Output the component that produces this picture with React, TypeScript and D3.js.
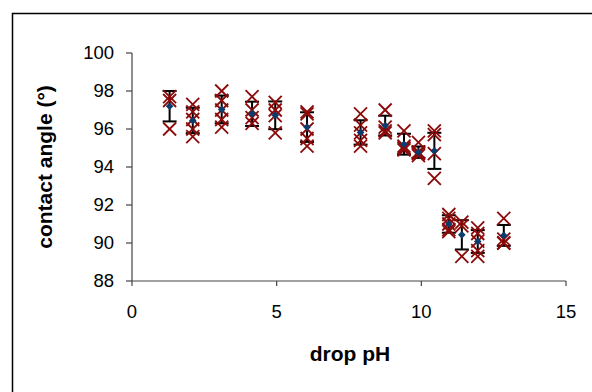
import React from "react";
import * as d3 from "d3";

const dropPH = [1.3, 2.1, 3.1, 4.15, 4.95, 6.05, 7.9, 8.75, 9.4, 9.9, 10.45, 10.95, 11.4, 11.95, 12.85];
const meanAngle = [97.2, 96.45, 97.03, 96.8, 96.72, 96.1, 95.82, 96.18, 95.2, 94.78, 94.85, 91.0, 90.43, 90.08, 90.4];
const errAngle = [0.8, 0.67, 0.73, 0.64, 0.73, 0.78, 0.64, 0.52, 0.55, 0.3, 0.95, 0.46, 0.77, 0.6, 0.55];
const readings = [
  [97.7, 97.5, 96.0],
  [97.3, 96.9, 96.5, 96.0, 95.6],
  [98.0, 97.5, 97.0, 96.5, 96.1],
  [97.7, 97.0, 96.6, 96.3],
  [97.4, 97.0, 96.7, 95.8],
  [96.9, 96.8, 96.0, 95.5, 95.1],
  [96.8, 96.2, 95.8, 95.4, 95.1],
  [97.0, 96.1, 95.9, 95.8],
  [95.9, 95.1, 95.0, 94.9],
  [95.3, 94.8, 94.7, 94.6],
  [95.9, 95.7, 94.7, 93.4],
  [91.5, 91.3, 91.0, 90.7, 90.6],
  [91.1, 90.9, 89.3],
  [90.8, 90.5, 90.1, 89.6, 89.3],
  [91.3, 90.2, 90.0, 90.0],
];
const xTicks = [0, 5, 10, 15];
const yTicks = [88, 90, 92, 94, 96, 98, 100];

export default function App() {
  const x = d3.scaleLinear().domain([0, 15]).range([132, 566]);
  const y = d3.scaleLinear().domain([88, 100]).range([281, 53]);
  const font = "'Liberation Sans', Arial, sans-serif";
  const axisColor = "#444";
  const xs = 6.5;
  const ds = 3.8;
  const cap = 7;
  return (
    <svg width={592} height={392} style={{ position: "absolute", left: 0, top: 0 }} fontFamily={font}>
      <rect x={0} y={0} width={592} height={392} fill="#fff" />
      <rect x={12.5} y={13.5} width={620} height={420} fill="none" stroke="#000" strokeWidth={1.5} />
      <line x1={x(0)} x2={x(0)} y1={y(100)} y2={y(88)} stroke={axisColor} strokeWidth={1.2} />
      <line x1={x(0)} x2={x(15)} y1={y(88)} y2={y(88)} stroke={axisColor} strokeWidth={1.2} />
      {yTicks.map((t) => (
        <g key={"y" + t}>
          <line x1={x(0) - 6} x2={x(0)} y1={y(t)} y2={y(t)} stroke={axisColor} strokeWidth={1.2} />
          <text x={x(0) - 18} y={y(t)} dy="0.35em" textAnchor="end" fontSize={18.5} fill="#000">
            {t}
          </text>
        </g>
      ))}
      {xTicks.map((t) => (
        <g key={"x" + t}>
          <line x1={x(t)} x2={x(t)} y1={y(88)} y2={y(88) + 5} stroke={axisColor} strokeWidth={1.2} />
          <text x={x(t)} y={318} textAnchor="middle" fontSize={18.5} fill="#000">
            {t}
          </text>
        </g>
      ))}
      <text x={350} y={361} textAnchor="middle" fontSize={21} fontWeight="bold" fill="#000">
        drop pH
      </text>
      <text
        transform={`translate(52,167) rotate(-90)`}
        textAnchor="middle"
        fontSize={21}
        fontWeight="bold"
        fill="#000"
      >
        contact angle (°)
      </text>
      {dropPH.map((p, i) => {
        const cx = x(p);
        const top = y(meanAngle[i] + errAngle[i]);
        const bot = y(meanAngle[i] - errAngle[i]);
        return (
          <g key={"e" + i} stroke="#000" strokeWidth={2}>
            <line x1={cx} x2={cx} y1={top} y2={bot} />
            <line x1={cx - cap} x2={cx + cap} y1={top} y2={top} />
            <line x1={cx - cap} x2={cx + cap} y1={bot} y2={bot} />
          </g>
        );
      })}
      {dropPH.map((p, i) =>
        readings[i].map((v, j) => {
          const cx = x(p);
          const cy = y(v);
          return (
            <g key={"r" + i + "-" + j} stroke="#8B0A0A" strokeWidth={1.8}>
              <line x1={cx - xs} x2={cx + xs} y1={cy - xs} y2={cy + xs} />
              <line x1={cx - xs} x2={cx + xs} y1={cy + xs} y2={cy - xs} />
            </g>
          );
        })
      )}
      {dropPH.map((p, i) => {
        const cx = x(p);
        const cy = y(meanAngle[i]);
        return (
          <path
            key={"m" + i}
            d={`M${cx},${cy - ds}L${cx + ds},${cy}L${cx},${cy + ds}L${cx - ds},${cy}Z`}
            fill="#0B3C6E"
          />
        );
      })}
    </svg>
  );
}
